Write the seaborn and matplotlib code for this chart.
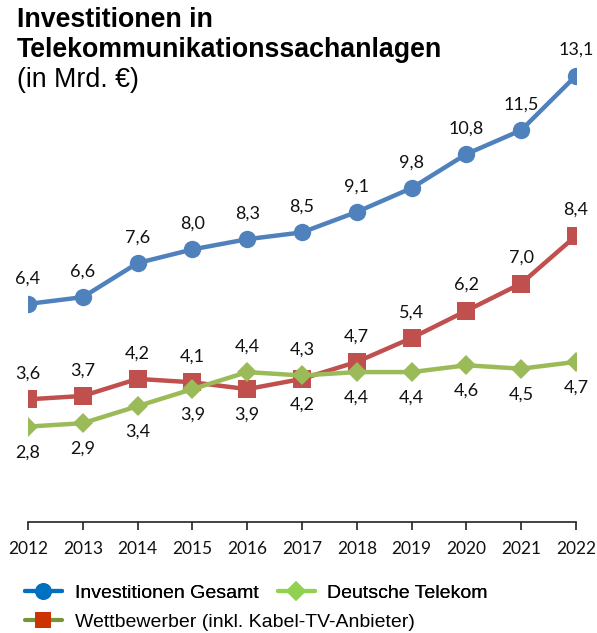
import matplotlib
matplotlib.use("Agg")
import matplotlib.pyplot as plt
from matplotlib.lines import Line2D
import seaborn as sns
import pandas as pd

years = [2012, 2013, 2014, 2015, 2016, 2017, 2018, 2019, 2020, 2021, 2022]
gesamt = [6.4, 6.6, 7.6, 8.0, 8.3, 8.5, 9.1, 9.8, 10.8, 11.5, 13.1]
wettbewerber = [3.6, 3.7, 4.2, 4.1, 3.9, 4.2, 4.7, 5.4, 6.2, 7.0, 8.4]
telekom = [2.8, 2.9, 3.4, 3.9, 4.4, 4.3, 4.4, 4.4, 4.6, 4.5, 4.7]

names = ["Investitionen Gesamt", "Deutsche Telekom", "Wettbewerber (inkl. Kabel-TV-Anbieter)"]

sns.set_theme(style="white")
plt.rcParams['font.family'] = ['Lato', 'DejaVu Sans']
plt.rcParams['text.color'] = 'black'

fig = plt.figure(figsize=(5.97, 6.33), dpi=100)
ax = fig.add_axes([28/597, (633-522)/633, (576-28)/597, (522-45)/633])

df = pd.DataFrame({"Jahr": years, "g": gesamt, "w": wettbewerber, "t": telekom})

sns.lineplot(data=df, x="Jahr", y="g", ax=ax, color="#4F81BD", lw=3.2,
             marker="o", markersize=12.5, markeredgewidth=0, zorder=3)
sns.lineplot(data=df, x="Jahr", y="w", ax=ax, color="#C0504D", lw=3.2,
             marker="s", markersize=12.5, markeredgewidth=0, zorder=3)
sns.lineplot(data=df, x="Jahr", y="t", ax=ax, color="#9BBB59", lw=3.2,
             marker="D", markersize=10.5, markeredgewidth=0, zorder=4)

def fmt(v):
    return f"{v:.1f}".replace(".", ",")

lab_kw = dict(ha="center", va="center", fontsize=13, color="#111111")
for i, yr in enumerate(years):
    ax.annotate(fmt(gesamt[i]), (yr, gesamt[i]), xytext=(0, 18.5), textcoords="offset points", **lab_kw)
    w, t = wettbewerber[i], telekom[i]
    if w >= t:
        ax.annotate(fmt(w), (yr, w), xytext=(0, 18.5), textcoords="offset points", **lab_kw)
        ax.annotate(fmt(t), (yr, t), xytext=(0, -18.5), textcoords="offset points", **lab_kw)
    else:
        ax.annotate(fmt(t), (yr, t), xytext=(0, 18.5), textcoords="offset points", **lab_kw)
        ax.annotate(fmt(w), (yr, w), xytext=(0, -18.5), textcoords="offset points", **lab_kw)

ax.set_xlim(2012, 2022)
ax.set_ylim(0, 14)
ax.set_xticks(years)
ax.set_xticklabels([str(y) for y in years], fontsize=12.5, color="#111111")
ax.set_yticks([])
ax.set_xlabel("")
ax.set_ylabel("")
for s in ["top", "right", "left"]:
    ax.spines[s].set_visible(False)
ax.spines["bottom"].set_color("#222222")
ax.spines["bottom"].set_linewidth(1.2)
ax.tick_params(axis="x", direction="out", length=6, width=1.2, color="#222222", pad=8, bottom=True)
ax.patch.set_alpha(0)

fig.text(17/597, 1 - 7/633, "Investitionen in", fontsize=19.3, fontweight="bold",
         family="Liberation Sans", va="top", ha="left", color="black")
fig.text(17/597, 1 - 37/633, "Telekommunikationssachanlagen", fontsize=19.3, fontweight="bold",
         family="Liberation Sans", va="top", ha="left", color="black")
fig.text(17/597, 1 - 67/633, "(in Mrd. €)", fontsize=19.3, family="Liberation Sans",
         va="top", ha="left", color="black")

h_g = Line2D([], [], color="#0070C0", lw=3, marker="o", markersize=12, markerfacecolor="#0070C0", markeredgewidth=0)
h_w = Line2D([], [], color="#77933C", lw=3, marker="s", markersize=12, markerfacecolor="#CC3300", markeredgewidth=0)
h_t = Line2D([], [], color="#92D050", lw=3, marker="D", markersize=10, markerfacecolor="#92D050", markeredgewidth=0)
leg_kw = dict(loc="center left", frameon=False, prop={"family": "Liberation Sans", "size": 14},
              handlelength=1.9, handletextpad=0.65, borderpad=0, borderaxespad=0, labelcolor="black")
leg1 = fig.legend([h_g, h_t], [names[0], names[1]], ncol=2, columnspacing=1.0,
                  bbox_to_anchor=(25/597, 1 - 593/633), **leg_kw)
fig.add_artist(leg1)
leg2 = fig.legend([h_w], [names[2]], bbox_to_anchor=(25/597, 1 - 622/633), **leg_kw)

fig.savefig("out.png", dpi=100)
